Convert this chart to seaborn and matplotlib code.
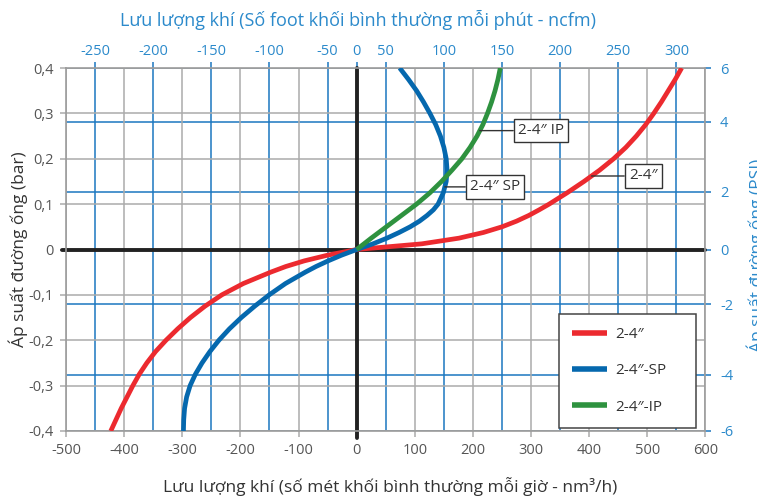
import numpy as np
import pandas as pd
import matplotlib
matplotlib.use("Agg")
import matplotlib.pyplot as plt
import seaborn as sns
from matplotlib.ticker import FixedLocator, FuncFormatter

# ---------------- data ----------------
pressure_bar = [-0.4, -0.375, -0.35, -0.325, -0.3, -0.275, -0.25, -0.225, -0.2, -0.175,
                -0.15, -0.125, -0.1, -0.075, -0.05, -0.0375, -0.025, -0.0125, 0.0,
                0.0125, 0.025, 0.0375, 0.05, 0.0625, 0.075, 0.0875, 0.1, 0.125, 0.15,
                0.175, 0.2, 0.225, 0.25, 0.275, 0.3, 0.325, 0.35, 0.375, 0.4]
flow_24 = [-423, -414, -405, -395, -385, -374, -361, -346, -328, -308,
           -286, -261, -232, -195, -148, -122, -90, -50, 0,
           112, 176, 218, 250, 275, 296, 314, 331, 362, 391,
           418, 442, 463, 481, 497, 511, 524, 536, 548, 559]
flow_24_sp = [-298, -297.5, -296, -292.5, -286.5, -277.5, -266, -252.5, -237, -219,
              -198.5, -175.5, -150.5, -122.5, -88.5, -70, -49, -26, 0,
              28, 52, 73, 92, 108, 121, 132, 140, 149, 154,
              155.5, 154, 150, 144, 136, 126, 115, 103, 89, 74]
flow_24_ip = [np.nan] * 18 + [0,
              12.5, 25, 38, 51, 64, 77, 90, 103, 126, 146,
              164, 181, 195, 207, 217, 225, 232, 238, 243, 247]

series_names = ["2-4″", "2-4″-SP", "2-4″-IP"]
series_flows = [flow_24, flow_24_sp, flow_24_ip]
series_colors = ["#ec2a2f", "#0568ae", "#2e923f"]

bottom_ticks = [-500, -400, -300, -200, -100, 0, 100, 200, 300, 400, 500, 600]
left_ticks = [-0.4, -0.3, -0.2, -0.1, 0.0, 0.1, 0.2, 0.3, 0.4]
top_ticks_ncfm = [-250, -200, -150, -100, -50, 0, 50, 100, 150, 200, 250, 300]
right_ticks_psi = [-6, -4, -2, 0, 2, 4, 6]

# callouts: (label, series index, pressure of leader, text centre flow)
callouts = [("2-4″ IP", 2, 0.262, 317), ("2-4″ SP", 1, 0.138, 238), ("2-4″", 0, 0.162, 493)]

# ---------------- style ----------------
sns.set_theme(style="white")
plt.rcParams["font.family"] = ["Open Sans", "Noto Sans", "DejaVu Sans"]
plt.rcParams["axes.unicode_minus"] = False

GRAY_GRID = "#ababab"
BLUE_GRID = "#1b77c0"
BLUE_TXT = "#2c8acb"
TXT = "#555555"
DARK = "#333333"

rows = []
for name, flows in zip(series_names, series_flows):
    for p, f in zip(pressure_bar, flows):
        rows.append({"series": name, "flow": f, "pressure": p})
df = pd.DataFrame(rows).dropna()

fig = plt.figure(figsize=(7.57, 4.97), dpi=100, facecolor="white")
ax = fig.add_axes([66 / 757, 1 - 431 / 497, 639.5 / 757, 363 / 497])
ax.set_xlim(-500, 600)
ax.set_ylim(-0.4, 0.4)

# twin axes for ncfm (top) and PSI (right)
ax_top = ax.twiny()
ax_top.set_xlim(-500, 600)
ax_right = ax.twinx()
ax_right.set_ylim(-0.4, 0.4)

# top scale as drawn in the original chart (uneven around zero)
top_pos = [2 * n - 50 * np.sign(n) for n in top_ticks_ncfm]
ax_top.xaxis.set_major_locator(FixedLocator(top_pos))
ax_top.set_xticklabels([str(n) for n in top_ticks_ncfm])
# right scale positions as drawn on the original chart (bar)
right_pos = [-0.4, -0.276, -0.121, 0.0, 0.127, 0.281, 0.4]
ax_right.yaxis.set_major_locator(FixedLocator(right_pos))
ax_right.set_yticklabels([str(n) for n in right_ticks_psi])

for tw in (ax_top, ax_right):
    for s in tw.spines.values():
        s.set_visible(False)
    tw.patch.set_visible(False)
ax_top.grid(axis="x", color=BLUE_GRID, lw=1.1)
ax_top.grid(axis="y", visible=False)
ax_right.grid(axis="y", color=BLUE_GRID, lw=1.1)
ax_right.grid(axis="x", visible=False)
ax_top.tick_params(axis="x", top=True, bottom=False, direction="out", length=4.5, width=1.1,
                   color=BLUE_GRID, labelcolor=BLUE_TXT, labelsize=10.5, pad=2)
ax_right.tick_params(axis="y", right=True, left=False, direction="out", length=4.5, width=1.1,
                     color=BLUE_GRID, labelcolor=BLUE_TXT, labelsize=10.5, pad=6)

ax.set_zorder(5)
ax.patch.set_visible(False)

# main axes
ax.xaxis.set_major_locator(FixedLocator(bottom_ticks))
ax.yaxis.set_major_locator(FixedLocator(left_ticks))
ax.xaxis.set_major_formatter(FuncFormatter(lambda v, _: f"{v:.0f}"))
ax.yaxis.set_major_formatter(
    FuncFormatter(lambda v, _: "0" if abs(v) < 1e-9 else f"{v:.1f}".replace(".", ",")))
ax.grid(True, color=GRAY_GRID, lw=1.1)
ax.tick_params(axis="both", direction="out", length=4, width=1.1, color=GRAY_GRID,
               labelcolor=TXT, labelsize=10.5)
ax.tick_params(axis="x", pad=5, bottom=True)
ax.tick_params(axis="y", pad=5, left=True)
for s in ax.spines.values():
    s.set_visible(True)
    s.set_color("#9c9c9c")
    s.set_linewidth(1.2)

ax.axhline(0, xmin=-0.007, xmax=1, color="#222222", lw=2.8, clip_on=False, zorder=2)
ax.axvline(0, ymin=-0.018, ymax=1, color="#222222", lw=2.8, clip_on=False, zorder=2)

sns.lineplot(data=df, x="flow", y="pressure", hue="series", hue_order=series_names,
             palette=dict(zip(series_names, series_colors)), sort=False, estimator=None,
             linewidth=3.4, ax=ax, zorder=3, solid_joinstyle="round", solid_capstyle="butt")

# labels
ax.set_xlabel("Lưu lượng khí (số mét khối bình thường mỗi giờ - nm³/h)", fontsize=12.5, color=DARK)
ax.xaxis.set_label_coords((390 - 66) / 639.5, (431 - 486) / 363)
ax.xaxis.label.set_va("center")
ax.set_ylabel("Áp suất đường ống (bar)", fontsize=12.5, color=DARK)
ax.yaxis.set_label_coords((18 - 66) / 639.5, 0.5)
ax.yaxis.label.set_va("center")
ax_top.set_xlabel("Lưu lượng khí (Số foot khối bình thường mỗi phút - ncfm)", fontsize=13, color=BLUE_TXT)
ax_top.xaxis.set_label_coords((358 - 66) / 639.5, (431 - 20) / 363)
ax_top.xaxis.label.set_va("center")
ax_right.set_ylabel("Áp suất đường ống (PSI)", fontsize=12.5, color=BLUE_TXT, rotation=90)
ax_right.yaxis.set_label_coords((756 - 66) / 639.5, (431 - 255) / 363)
ax_right.yaxis.label.set_va("center")

# callouts
for text, idx, p, xc in callouts:
    fx = np.interp(p, pressure_bar, np.nan_to_num(series_flows[idx], nan=0.0))
    ax.annotate(text, xy=(fx, p), xytext=(xc, p), textcoords="data", ha="center", va="center",
                fontsize=11, color=DARK, zorder=6,
                bbox=dict(boxstyle="square,pad=0.28", fc="white", ec=DARK, lw=1),
                arrowprops=dict(arrowstyle="-", color=DARK, lw=1, shrinkA=0, shrinkB=0))

# legend
old = ax.get_legend()
handles = list(old.legend_handles)
labels = [t.get_text() for t in old.get_texts()]
old.remove()
leg = ax.legend(handles, labels, loc="upper left", mode="expand",
                bbox_to_anchor=(559 / 757, 1 - 426 / 497, 137 / 757, 112 / 497),
                bbox_transform=fig.transFigure, frameon=True, fancybox=False, framealpha=1,
                edgecolor="#444444", fontsize=11, handlelength=2.3, handletextpad=0.5,
                labelspacing=1.4, borderpad=0.85, borderaxespad=0)
leg.set_zorder(7)
leg.get_frame().set_linewidth(1.1)
for line in leg.get_lines():
    line.set_linewidth(4)
    line.set_solid_capstyle("butt")
for t in leg.get_texts():
    t.set_color(DARK)

fig.savefig("out.png", dpi=100, facecolor="white")
